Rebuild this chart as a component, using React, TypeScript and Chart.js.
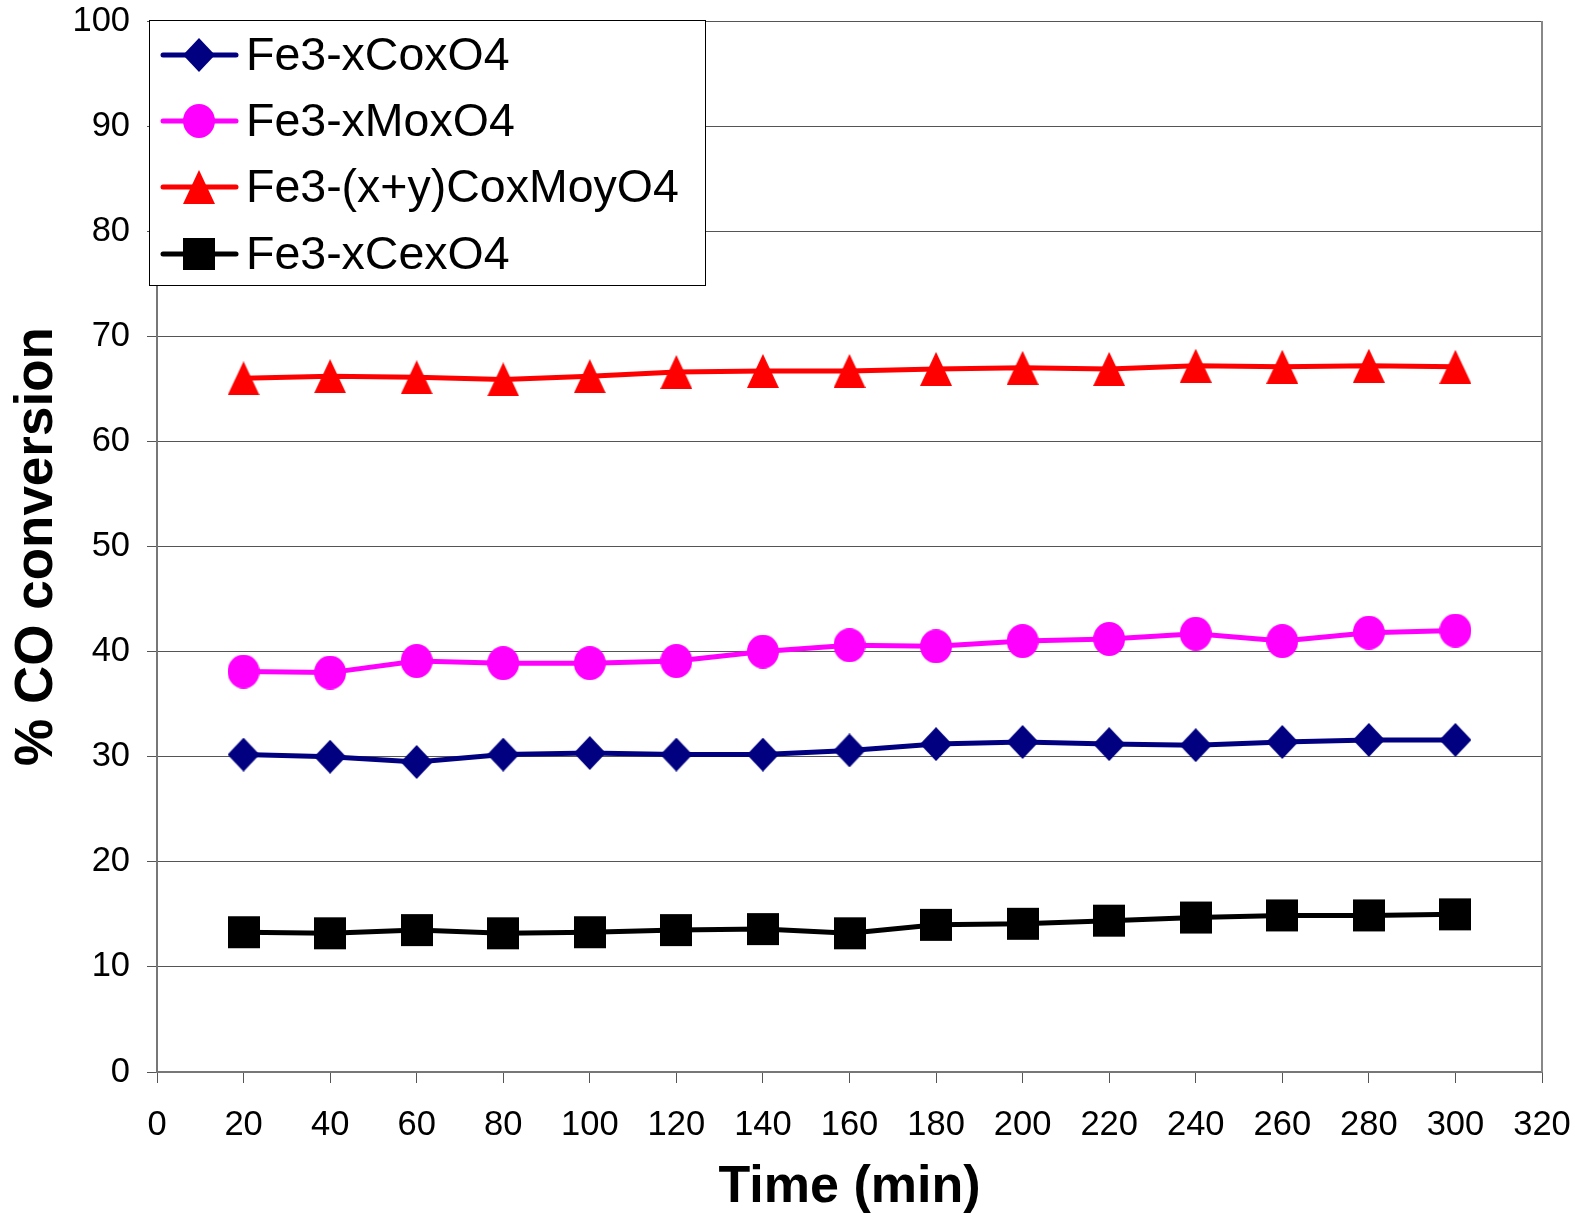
import React, { useEffect, useRef } from "react";
import { Chart, registerables } from "chart.js";

Chart.register(...registerables);

const times = [20, 40, 60, 80, 100, 120, 140, 160, 180, 200, 220, 240, 260, 280, 300];
const coSeries = [30.2, 30.0, 29.5, 30.2, 30.35, 30.2, 30.2, 30.6, 31.2, 31.4, 31.2, 31.1, 31.4, 31.6, 31.6];
const moSeries = [38.1, 38.0, 39.1, 38.9, 38.9, 39.1, 40.0, 40.6, 40.5, 41.0, 41.2, 41.7, 41.0, 41.8, 42.0];
const coMoSeries = [66.0, 66.2, 66.1, 65.9, 66.2, 66.6, 66.7, 66.7, 66.9, 67.0, 66.9, 67.2, 67.1, 67.2, 67.1];
const ceSeries = [13.3, 13.2, 13.5, 13.2, 13.3, 13.5, 13.6, 13.2, 14.0, 14.1, 14.4, 14.7, 14.9, 14.9, 15.0];

const seriesLabels = ["Fe3-xCoxO4", "Fe3-xMoxO4", "Fe3-(x+y)CoxMoyO4", "Fe3-xCexO4"];
const seriesColors = ["#000080", "#FF00FF", "#FF0000", "#000000"];
const seriesShapes = ["diamond", "circle", "triangle", "square"];
const xTicks = { min: 0, max: 320, step: 20 };
const yTicks = { min: 0, max: 100, step: 10 };

function makeMarker(shape: string, color: string): HTMLCanvasElement {
  const w = 32;
  const h = 34;
  const c = document.createElement("canvas");
  c.width = w;
  c.height = h;
  const ctx = c.getContext("2d")!;
  ctx.fillStyle = color;
  ctx.beginPath();
  if (shape === "diamond") {
    ctx.moveTo(w / 2, 0);
    ctx.lineTo(w, h / 2);
    ctx.lineTo(w / 2, h);
    ctx.lineTo(0, h / 2);
    ctx.closePath();
  } else if (shape === "circle") {
    ctx.ellipse(w / 2, h / 2, w / 2, h / 2, 0, 0, Math.PI * 2);
  } else if (shape === "triangle") {
    ctx.moveTo(w / 2, 0);
    ctx.lineTo(w, h);
    ctx.lineTo(0, h);
    ctx.closePath();
  } else {
    ctx.rect(0, 1, w, h - 2);
  }
  ctx.fill();
  return c;
}

export default function App() {
  const ref = useRef<HTMLCanvasElement>(null);

  useEffect(() => {
    const canvas = ref.current!;
    const markers = seriesShapes.map((s, i) => makeMarker(s, seriesColors[i]));
    const seriesData = [coSeries, moSeries, coMoSeries, ceSeries];

    const framePlugin = {
      id: "frameAndLegend",
      afterDraw(chart: any) {
        const { ctx, chartArea } = chart;
        ctx.save();
        // right border of plot area
        ctx.strokeStyle = "#888888";
        ctx.lineWidth = 2;
        ctx.beginPath();
        ctx.moveTo(chartArea.right, chartArea.top);
        ctx.lineTo(chartArea.right, chartArea.bottom);
        ctx.stroke();

        // legend box
        const bx = 149, by = 20, bw = 556, bh = 265;
        ctx.fillStyle = "#ffffff";
        ctx.fillRect(bx, by, bw, bh);
        ctx.strokeStyle = "#000000";
        ctx.lineWidth = 1;
        ctx.strokeRect(bx + 0.5, by + 0.5, bw, bh);
        const rowY = [55, 121, 187, 254];
        ctx.font = "46.5px 'Liberation Sans', Arial, sans-serif";
        ctx.textBaseline = "middle";
        ctx.textAlign = "left";
        seriesLabels.forEach((lab, i) => {
          const y = rowY[i];
          ctx.strokeStyle = seriesColors[i];
          ctx.lineWidth = 5;
          ctx.lineCap = "round";
          ctx.beginPath();
          ctx.moveTo(163, y);
          ctx.lineTo(236, y);
          ctx.stroke();
          const m = markers[i];
          ctx.drawImage(m, 199 - m.width / 2, y - m.height / 2);
          ctx.fillStyle = "#000000";
          ctx.fillText(lab, 246, y + 2);
        });
        ctx.restore();
      },
    };

    const tickFont = { family: "'Liberation Sans', Arial, sans-serif", size: 34.5 };

    const chart = new Chart(canvas, {
      type: "line",
      data: {
        datasets: seriesLabels.map((lab, i) => ({
          label: lab,
          data: times.map((t, k) => ({ x: t, y: seriesData[i][k] })),
          borderColor: seriesColors[i],
          backgroundColor: seriesColors[i],
          borderWidth: 5,
          pointStyle: markers[i] as any,
          pointRadius: 15,
          tension: 0,
        })),
      },
      options: {
        animation: false,
        responsive: false,
        layout: { padding: { top: 21, right: 33, left: 0, bottom: 0 } },
        plugins: {
          legend: { display: false },
          tooltip: { enabled: false },
        },
        scales: {
          x: {
            type: "linear",
            min: xTicks.min,
            max: xTicks.max,
            afterFit(scale: any) {
              scale.height = 141;
              scale.paddingLeft = 0;
              scale.paddingRight = 0;
            },
            ticks: {
              stepSize: xTicks.step,
              color: "#000000",
              padding: 22,
              font: tickFont,
            },
            grid: {
              drawOnChartArea: false,
              drawTicks: true,
              tickLength: 11,
              color: "#555555",
              lineWidth: 1,
            },
            border: { color: "#777777", width: 2 },
            title: {
              display: true,
              text: "Time (min)",
              color: "#000000",
              font: { family: "'Liberation Sans', Arial, sans-serif", size: 52, weight: "bold" },
              padding: { top: 0, bottom: -6 },
            },
          },
          y: {
            type: "linear",
            min: yTicks.min,
            max: yTicks.max,
            afterFit(scale: any) {
              scale.width = 157;
              scale.paddingTop = 0;
              scale.paddingBottom = 0;
            },
            ticks: {
              stepSize: yTicks.step,
              color: "#000000",
              padding: 17,
              font: tickFont,
            },
            grid: {
              color: "#555555",
              lineWidth: 1,
              tickLength: 10,
            },
            border: { color: "#777777", width: 2 },
            title: {
              display: true,
              text: "% CO conversion",
              color: "#000000",
              font: { family: "'Liberation Sans', Arial, sans-serif", size: 53, weight: "bold" },
              padding: { top: 6, bottom: 0 },
            },
          },
        },
      },
      plugins: [framePlugin],
    });

    return () => chart.destroy();
  }, []);

  return (
    <div style={{ position: "fixed", left: 0, top: 0, width: 1575, height: 1213, background: "#ffffff" }}>
      <canvas ref={ref} width={1575} height={1213} style={{ display: "block" }} />
    </div>
  );
}
